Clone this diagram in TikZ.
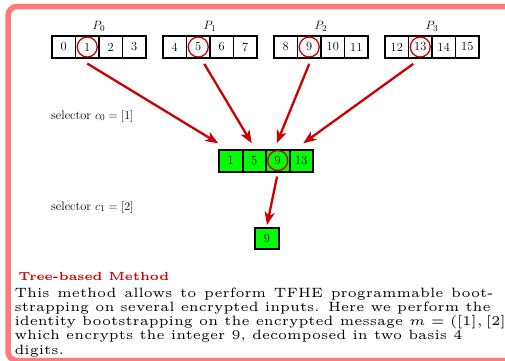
\documentclass[tikz,border=0pt]{standalone}
\usetikzlibrary{arrows.meta}
\definecolor{framecol}{RGB}{255,122,122}
\definecolor{arrowred}{RGB}{204,0,0}
\definecolor{cellgreen}{RGB}{0,255,0}
\definecolor{headred}{RGB}{215,0,0}
\begin{document}
\begin{tikzpicture}[x=1pt,y=-1pt,
  cell/.style={draw, line width=1.7pt, minimum width=23.5pt, minimum height=22pt,
    inner sep=0pt, font=\fontsize{12.4}{14}\selectfont},
  gcell/.style={cell, fill=cellgreen, line width=2pt},
  ring/.style={circle, draw=arrowred, line width=1.3pt, minimum size=20pt, inner sep=0pt},
  arr/.style={draw=arrowred, line width=2.3pt,
    -{Stealth[length=13pt,width=10pt,inset=3.5pt]}},
  plabel/.style={font=\fontsize{12.4}{14}\selectfont, inner sep=0pt},
  sel/.style={anchor=west, font=\fontsize{12.4}{14}\selectfont, inner sep=0pt},
  small/.style={anchor=base west, inner sep=0pt, scale=2.7}
]
\useasboundingbox (0,0) rectangle (505,360);
\clip (0,0) rectangle (505,360);

% frame of the box
\draw[framecol, line width=5.5pt, rounded corners=9pt] (8,6.5) rectangle (540,360.5);

% the four input polynomials P_0 .. P_3
\foreach \g in {0,...,3} {
  \foreach \i in {0,...,3} {
    \pgfmathtruncatemacro\v{4*\g+\i}
    \node[cell] (c\g\i) at ({52+111*\g+23.5*\i+11.75},47) {\v};
  }
  \node[plabel] (P\g) at ({52+111*\g+47},26) {$P_{\g}$};
  \node[ring] (r\g) at (c\g1) {};
}

% first level result
\node[gcell] (m1) at (230.75,160.5) {1};
\node[gcell] (m2) at (254.25,160.5) {5};
\node[gcell] (m3) at (277.75,160.5) {9};
\node[gcell] (m4) at (301.25,160.5) {13};
\node[ring] (rm) at (m3) {};

% final result
\node[gcell, minimum width=24pt, minimum height=21pt] (f) at (267,238.5) {9};

% selectors
\node[sel] (s0) at (51,116) {selector $c_0 = [1]$};
\node[sel] (s1) at (51,207) {selector $c_1 = [2]$};

% arrows
\draw[arr] ([shift={(0,4.7)}]c01.south) -- ([shift={(0.3,-5.2)}]m1.north west);
\draw[arr] ([shift={(6,5)}]c11.south) -- ([shift={(-2.5,-5.2)}]m2.north);
\draw[arr] ([shift={(0,5)}]c21.south) -- ([shift={(-1,-5.2)}]m3.north);
\draw[arr] ([shift={(-7,5)}]c31.south) -- ([shift={(2,-5.2)}]m4.north);
\draw[arr] ([shift={(-0.7,4)}]m3.south) -- ([shift={(0,-2)}]f.north);

% description
\node[small, scale=0.87, font=\fontsize{5}{6}\selectfont\bfseries, text=headred] (title) at (18,280)
  {Tree-based Method};
\node[small, xscale=0.98, align=left, font=\fontsize{5}{5.22}\selectfont] (body) at (14,354)
  {\makebox[181pt][s]{This method allows to perform TFHE programmable boot-}\\
   strapping on several encrypted inputs. Here we perform the\\
   identity bootstrapping on the encrypted message $m = ([1], [2]$\\
   which encrypts the integer 9, decomposed in two basis 4\\
   digits.};
\end{tikzpicture}
\end{document}
